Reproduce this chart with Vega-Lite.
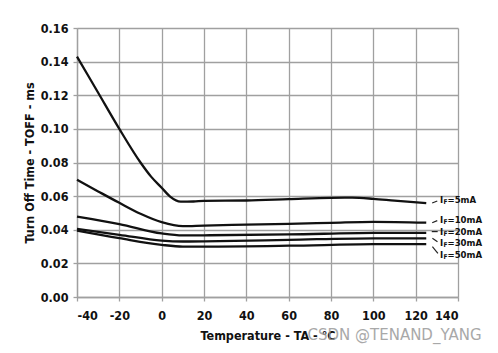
{
  "$schema": "https://vega.github.io/schema/vega-lite/v6.json",
  "autosize": "none",
  "width": 381,
  "height": 269,
  "padding": {"left": 77, "top": 28, "right": 40, "bottom": 56},
  "background": "white",
  "config": {
    "font": "DejaVu Sans Condensed",
    "view": {"stroke": null},
    "axis": {
      "labelFont": "DejaVu Sans Condensed",
      "labelFontWeight": "bold",
      "labelFontSize": 12.5,
      "labelColor": "#111",
      "labelOverlap": false,
      "labelBound": false,
      "titleFont": "DejaVu Sans Condensed",
      "titleFontWeight": "bold",
      "titleFontSize": 12.5,
      "titleColor": "#111",
      "gridColor": "#a0a0a0",
      "gridWidth": 1.3,
      "gridOpacity": 1,
      "domainColor": "#a0a0a0",
      "domainWidth": 1.3,
      "tickColor": "#a0a0a0",
      "tickSize": 4,
      "tickWidth": 1.3
    }
  },
  "datasets": {
    "curves": [
      {"series": "5mA", "t": -40, "v": 0.143},
      {"series": "5mA", "t": -30, "v": 0.1215},
      {"series": "5mA", "t": -20, "v": 0.100},
      {"series": "5mA", "t": -10, "v": 0.080},
      {"series": "5mA", "t": -5, "v": 0.0716},
      {"series": "5mA", "t": 0, "v": 0.0650},
      {"series": "5mA", "t": 4, "v": 0.0597},
      {"series": "5mA", "t": 9, "v": 0.0567},
      {"series": "5mA", "t": 15, "v": 0.0568},
      {"series": "5mA", "t": 20, "v": 0.0572},
      {"series": "5mA", "t": 40, "v": 0.0574},
      {"series": "5mA", "t": 60, "v": 0.0582},
      {"series": "5mA", "t": 80, "v": 0.0590},
      {"series": "5mA", "t": 90, "v": 0.0591},
      {"series": "5mA", "t": 100, "v": 0.0584},
      {"series": "5mA", "t": 110, "v": 0.0573},
      {"series": "5mA", "t": 125, "v": 0.0558},
      {"series": "10mA", "t": -40, "v": 0.0697},
      {"series": "10mA", "t": -30, "v": 0.0628},
      {"series": "10mA", "t": -20, "v": 0.0560},
      {"series": "10mA", "t": -10, "v": 0.0495},
      {"series": "10mA", "t": 0, "v": 0.0445},
      {"series": "10mA", "t": 10, "v": 0.0421},
      {"series": "10mA", "t": 20, "v": 0.0425},
      {"series": "10mA", "t": 40, "v": 0.0430},
      {"series": "10mA", "t": 60, "v": 0.0435},
      {"series": "10mA", "t": 80, "v": 0.0441},
      {"series": "10mA", "t": 100, "v": 0.0447},
      {"series": "10mA", "t": 125, "v": 0.0442},
      {"series": "20mA", "t": -40, "v": 0.0478},
      {"series": "20mA", "t": -20, "v": 0.0434},
      {"series": "20mA", "t": 0, "v": 0.0378},
      {"series": "20mA", "t": 10, "v": 0.0366},
      {"series": "20mA", "t": 20, "v": 0.0367},
      {"series": "20mA", "t": 60, "v": 0.0372},
      {"series": "20mA", "t": 100, "v": 0.0381},
      {"series": "20mA", "t": 125, "v": 0.0382},
      {"series": "30mA", "t": -40, "v": 0.0405},
      {"series": "30mA", "t": -20, "v": 0.0370},
      {"series": "30mA", "t": 0, "v": 0.0335},
      {"series": "30mA", "t": 10, "v": 0.0330},
      {"series": "30mA", "t": 20, "v": 0.0331},
      {"series": "30mA", "t": 60, "v": 0.0340},
      {"series": "30mA", "t": 100, "v": 0.0349},
      {"series": "30mA", "t": 125, "v": 0.0349},
      {"series": "50mA", "t": -40, "v": 0.0395},
      {"series": "50mA", "t": -20, "v": 0.0350},
      {"series": "50mA", "t": 0, "v": 0.0310},
      {"series": "50mA", "t": 10, "v": 0.0300},
      {"series": "50mA", "t": 20, "v": 0.0300},
      {"series": "50mA", "t": 60, "v": 0.0305},
      {"series": "50mA", "t": 100, "v": 0.0314},
      {"series": "50mA", "t": 125, "v": 0.0315}
    ],
    "labels": [
      {"label": "=5mA", "t": 131.5, "v": 0.0577},
      {"label": "=10mA", "t": 131.5, "v": 0.0458},
      {"label": "=20mA", "t": 131.5, "v": 0.0389},
      {"label": "=30mA", "t": 131.5, "v": 0.0323},
      {"label": "=50mA", "t": 131.5, "v": 0.0252}
    ],
    "leaders": [
      {"t": 127.8, "v": 0.0559, "t2": 130.2, "v2": 0.0571},
      {"t": 127.8, "v": 0.0442, "t2": 130.2, "v2": 0.0454},
      {"t": 127.6, "v": 0.0389, "t2": 130.4, "v2": 0.0389},
      {"t": 127.9, "v": 0.0349, "t2": 130.3, "v2": 0.0329},
      {"t": 127.9, "v": 0.0299, "t2": 130.5, "v2": 0.0260}
    ],
    "mark": [
      {"text": "CSDN @TENAND_YANG", "t": 110, "v": -0.0228}
    ]
  },
  "layer": [
    {
      "data": {"name": "curves"},
      "mark": {"type": "line", "color": "#111", "strokeWidth": 2.3, "interpolate": "monotone"},
      "encoding": {
        "x": {
          "field": "t", "type": "quantitative",
          "scale": {"domain": [-40, 140], "nice": false},
          "axis": {"values": [-40, -20, 0, 20, 40, 60, 80, 100, 120, 140], "tickCount": 20, "labelExpr": "'' + datum.value", "title": "Temperature - TA - °C", "labelPadding": 8, "titlePadding": 8}
        },
        "y": {
          "field": "v", "type": "quantitative",
          "scale": {"domain": [0, 0.16], "nice": false},
          "axis": {"values": [0, 0.02, 0.04, 0.06, 0.08, 0.10, 0.12, 0.14, 0.16], "tickCount": 20, "format": ".2f", "title": "Turn Off Time - TOFF - ms", "labelPadding": 5, "titlePadding": 4}
        },
        "detail": {"field": "series"}
      }
    },
    {
      "data": {"name": "leaders"},
      "mark": {"type": "rule", "color": "#222", "strokeWidth": 1.2},
      "encoding": {
        "x": {"field": "t", "type": "quantitative"},
        "y": {"field": "v", "type": "quantitative"},
        "x2": {"field": "t2"},
        "y2": {"field": "v2"}
      }
    },
    {
      "data": {"name": "labels"},
      "mark": {"type": "text", "align": "left", "baseline": "middle", "fontSize": 9.5, "fontWeight": "bold", "color": "#111", "text": "I"},
      "encoding": {
        "x": {"field": "t", "type": "quantitative"},
        "y": {"field": "v", "type": "quantitative"}
      }
    },
    {
      "data": {"name": "labels"},
      "mark": {"type": "text", "align": "left", "baseline": "middle", "fontSize": 6.5, "fontWeight": "bold", "color": "#111", "text": "F", "dx": 3.5, "dy": 2},
      "encoding": {
        "x": {"field": "t", "type": "quantitative"},
        "y": {"field": "v", "type": "quantitative"}
      }
    },
    {
      "data": {"name": "labels"},
      "mark": {"type": "text", "align": "left", "baseline": "middle", "fontSize": 9.5, "fontWeight": "bold", "color": "#111", "dx": 7.5},
      "encoding": {
        "x": {"field": "t", "type": "quantitative"},
        "y": {"field": "v", "type": "quantitative"},
        "text": {"field": "label"}
      }
    },
    {
      "data": {"name": "mark"},
      "mark": {"type": "text", "align": "center", "baseline": "middle", "fontSize": 15, "font": "DejaVu Sans", "color": "#9a9a9a", "opacity": 0.85},
      "encoding": {
        "x": {"field": "t", "type": "quantitative"},
        "y": {"field": "v", "type": "quantitative"},
        "text": {"field": "text"}
      }
    }
  ]
}
